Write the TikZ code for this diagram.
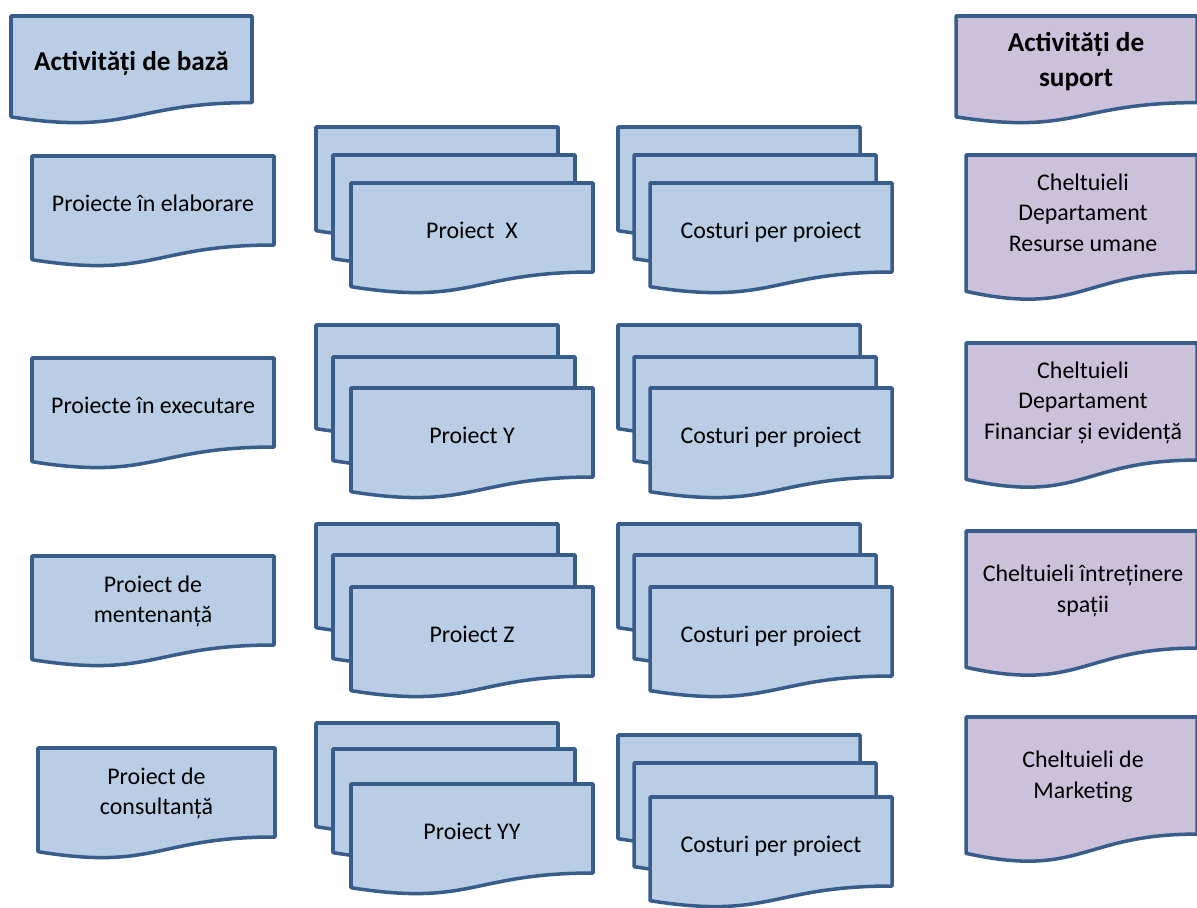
\documentclass[tikz,border=0pt]{standalone}
\usepackage{fontspec}
\setmainfont{Carlito}

\definecolor{sheetblue}{HTML}{B9CDE5}
\definecolor{sheetlilac}{HTML}{CCC1DA}
\definecolor{sheetline}{HTML}{385D8A}

\newcommand{\linestrut}{\vrule height .78\baselineskip depth .22\baselineskip width 0pt}

\tikzset{
    sheet/.style={draw=sheetline, fill=sheetblue, line width=2pt, line join=round},
    boxtext/.style={align=center, font=\fontsize{13.6}{17.5}\selectfont,
        execute at begin node=\linestrut, execute at end node=\linestrut},
    headtext/.style={boxtext, font=\fontsize{15.5}{20}\selectfont\bfseries},
}

% document sheet: [options] {top-left corner} {width} {height}
\newcommand{\docsheet}[4][]{%
    \draw[sheet,#1] (#2) -- ++(#3,0) -- ++(0,{0.802*#4})
        .. controls +({-0.5*#3},0) and +({0.5*#3},{0.1735*#4}) .. ++({-#3},{0.132*#4}) -- cycle;
}

\begin{document}
\begin{tikzpicture}[x=0.02cm, y=-0.02cm]
    \useasboundingbox (0,0) rectangle (1197,908);

    % headers
    \docsheet{11,16}{241}{108}
    \node[headtext] (baza) at (131.5,61) {Activități de bază};
    \docsheet[fill=sheetlilac]{956,16}{241}{108}
    \node[headtext] (suport) at (1076,63) {Activități de\\suport};

    % basic activities
    \foreach \x/\w/\top/\nm/\txt in {32/242/156/elab/{Proiecte în elaborare},
                                     32/242/358/exec/{Proiecte în executare},
                                     32/242/556/ment/{Proiect de\\mentenanță},
                                     38/237/748/cons/{Proiect de\\consultanță}} {
        \docsheet{\x,\top}{\w}{111}
        \node[boxtext] (\nm) at ({\x+\w/2},{\top+46.5}) {\txt};
    }

    % project stacks
    \foreach \a/\b/\c/\nm/\txt in {127/155/183/projX/{Proiect\ \ X},
                                   325/357/388/projY/{Proiect Y},
                                   524/555/587/projZ/{Proiect Z},
                                   723/749/784/projYY/{Proiect YY}} {
        \docsheet{316,\a}{242}{111}
        \docsheet{333,\b}{242}{111}
        \docsheet{351,\c}{242}{111}
        \node[boxtext] (\nm) at (472,{\c+47}) {\txt};
    }

    % cost stacks
    \foreach \a/\b/\c/\nm in {127/155/183/costX, 325/357/388/costY,
                              524/555/587/costZ, 735/763/797/costYY} {
        \docsheet{618,\a}{242}{111}
        \docsheet{634,\b}{242}{111}
        \docsheet{650,\c}{242}{111}
        \node[boxtext] (\nm) at (771,{\c+47}) {Costuri per proiect};
    }

    % support activities
    \foreach \top/\nm/\txt in {155/hr/{Cheltuieli\\Departament\\Resurse umane},
                               343/fin/{Cheltuieli\\Departament\\Financiar și evidență},
                               531/spatii/{Cheltuieli întreținere\\spații},
                               717/mkt/{Cheltuieli de\\Marketing}} {
        \docsheet[fill=sheetlilac]{966,\top}{231}{146}
        \node[boxtext] (\nm) at (1083,{\top+61}) {\txt};
    }
\end{tikzpicture}
\end{document}
